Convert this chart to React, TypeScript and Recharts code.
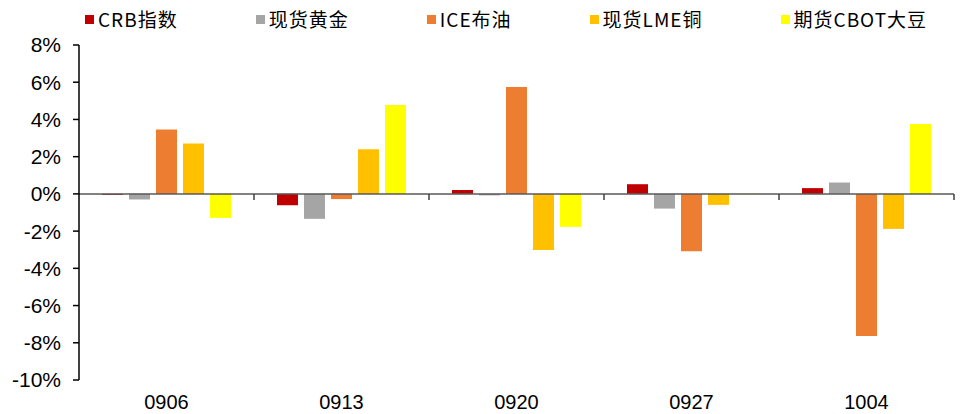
import { BarChart, Bar, XAxis, YAxis, ReferenceLine } from "recharts";

// weekly percentage change of commodities
const categories = ["0906", "0913", "0920", "0927", "1004"];
const crbIndex = [-0.05, -0.61, 0.21, 0.52, 0.31];
const spotGold = [-0.3, -1.34, -0.08, -0.79, 0.61];
const iceBrent = [3.46, -0.28, 5.74, -3.08, -7.63];
const lmeCopper = [2.71, 2.4, -3.01, -0.59, -1.88];
const cbotSoybean = [-1.29, 4.77, -1.77, 0.02, 3.76];

const yTicks = [-10, -8, -6, -4, -2, 0, 2, 4, 6, 8];

const series = [
  { key: "crb", name: "CRB指数", color: "#C00000", values: crbIndex },
  { key: "gold", name: "现货黄金", color: "#A5A5A5", values: spotGold },
  { key: "brent", name: "ICE布油", color: "#ED7D31", values: iceBrent },
  { key: "copper", name: "现货LME铜", color: "#FFC000", values: lmeCopper },
  { key: "soybean", name: "期货CBOT大豆", color: "#FFFF00", values: cbotSoybean },
];

const data = categories.map((name, i) => {
  const row: Record<string, string | number> = { name };
  series.forEach((s) => {
    row[s.key] = s.values[i];
  });
  return row;
});

const axisFont = "'Liberation Sans', Arial, sans-serif";
const legendFont = "'Liberation Sans Narrow', 'Noto Sans CJK SC', sans-serif";

// zero axis with small downward ticks between the categories
function ZeroAxis(props: any) {
  const { x1, x2, y1 } = props;
  const n = categories.length;
  const step = (x2 - x1) / n;
  const ticks = [];
  for (let i = 1; i <= n; i++) {
    const x = x1 + step * i;
    ticks.push(<line key={i} x1={x} x2={x} y1={y1} y2={y1 + 6} stroke="#404040" strokeWidth={1.5} />);
  }
  return (
    <g>
      <line x1={x1} x2={x2} y1={y1} y2={y1} stroke="#595959" strokeWidth={1.5} />
      {ticks}
    </g>
  );
}

function LegendRow() {
  return (
    <div
      style={{
        position: "absolute",
        left: 85,
        top: 8,
        display: "flex",
        gap: 78,
        fontFamily: legendFont,
        fontSize: 19,
        lineHeight: "22px",
        letterSpacing: 1,
        color: "#000",
        whiteSpace: "nowrap",
      }}
    >
      {series.map((s) => (
        <div key={s.key} style={{ display: "flex", alignItems: "center", gap: 4 }}>
          <div style={{ width: 9, height: 9, background: s.color }} />
          <span>{s.name}</span>
        </div>
      ))}
    </div>
  );
}

export default function App() {
  return (
    <div style={{ position: "fixed", left: 0, top: 0, width: 960, height: 414, background: "#fff" }}>
      <LegendRow />
      <BarChart
        width={960}
        height={414}
        data={data}
        margin={{ top: 45, right: 6, bottom: 0, left: 0 }}
        barSize={21}
        barGap={6}
      >
        <XAxis
          dataKey="name"
          height={34}
          axisLine={false}
          tickLine={false}
          tickMargin={9}
          tick={{ fill: "#000", fontSize: 20, fontFamily: axisFont }}
        />
        <YAxis
          width={79}
          domain={[-10, 8]}
          ticks={yTicks}
          interval={0}
          tickFormatter={(v) => `${v}%`}
          axisLine={{ stroke: "#000", strokeWidth: 1.5 }}
          tickLine={{ stroke: "#000", strokeWidth: 1.5 }}
          tickSize={6}
          tickMargin={12}
          tick={{ fill: "#000", fontSize: 21, fontFamily: axisFont }}
        />
        {series.map((s) => (
          <Bar key={s.key} dataKey={s.key} name={s.name} fill={s.color} isAnimationActive={false} />
        ))}
        <ReferenceLine y={0} shape={ZeroAxis} />
      </BarChart>
    </div>
  );
}
